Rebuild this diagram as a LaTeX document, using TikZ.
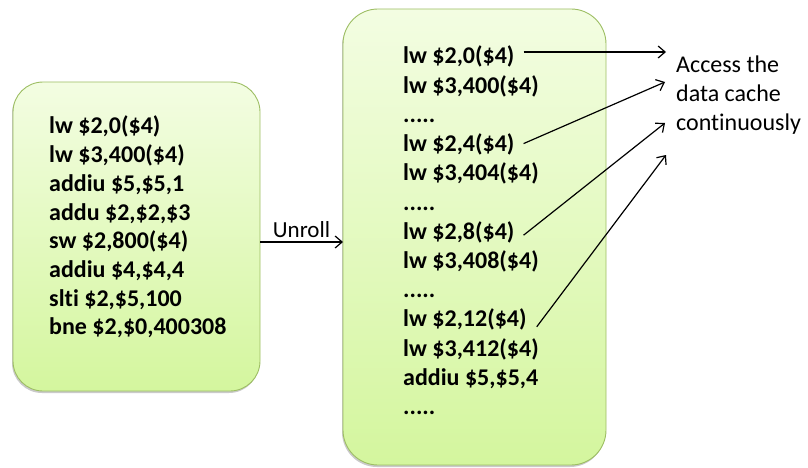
\documentclass[tikz,border=0pt]{standalone}
\usepackage{fontspec}
\setmainfont[Ligatures=NoCommon]{Carlito}
\usetikzlibrary{arrows.meta,shadows}
\definecolor{boxtop}{HTML}{F3FDE2}
\definecolor{boxbot}{HTML}{D4F69E}
\definecolor{boxline}{HTML}{9DBE63}
\tikzset{
  codebox/.style={draw=boxline, line width=0.9pt, rounded corners=30pt, top color=boxtop, bottom color=boxbot,
    drop shadow={shadow xshift=-1pt, shadow yshift=-2pt, opacity=0.35, fill=black!60}},
  code/.style={anchor=base west, inner sep=0pt, font=\fontsize{24}{28}\selectfont\bfseries},
  note/.style={anchor=base west, inner sep=0pt, font=\fontsize{24}{28}\selectfont},
  conn/.style={line width=1.2pt, -{Straight Barb[length=7pt,width=12pt,line width=1.2pt]}}
}
\begin{document}
\begin{tikzpicture}[x=1pt,y=-1pt]
\useasboundingbox (0,0) rectangle (808,468);
% boxes
\path[codebox] (13,82) rectangle (260,391);
\coordinate (lboxE) at (260,242);
\path[codebox, rounded corners=35pt] (343,9) rectangle (606,465);
\coordinate (rboxW) at (343,242);
% left code
\foreach \t [count=\i from 0] in {{lw \$2,0(\$4)}, {lw \$3,400(\$4)}, {addiu \$5,\$5,1}, {addu \$2,\$2,\$3}, {sw \$2,800(\$4)}, {addiu \$4,\$4,4}, {slti \$2,\$5,100}, {bne \$2,\$0,400308}}
  \node[code] (a\i) at (49,134+28.7*\i) {\t};
% right code
\node[code] (r0) at (403,64) {lw \$2,0(\$4)};
\node[code] (r1) at (403,64+29.2) {lw \$3,400(\$4)};
\node[code] (r2) at (403,64+2*29.2) {.....};
\node[code] (r3) at (403,64+3*29.2) {lw \$2,4(\$4)};
\node[code] (r4) at (403,64+4*29.2) {lw \$3,404(\$4)};
\node[code] (r5) at (403,64+5*29.2) {.....};
\node[code] (r6) at (403,64+6*29.2) {lw \$2,8(\$4)};
\node[code] (r7) at (403,64+7*29.2) {lw \$3,408(\$4)};
\node[code] (r8) at (403,64+8*29.2) {.....};
\node[code] (r9) at (403,64+9*29.2) {lw \$2,12(\$4)};
\node[code] (r10) at (403,64+10*29.2) {lw \$3,412(\$4)};
\node[code] (r11) at (403,64+11*29.2) {addiu \$5,\$5,4};
\node[code] (r12) at (403,64+12*29.2) {.....};
% note
\node[note] (n1) at (676,73) {Access the};
\node[note] (n2) at (676,102) {data cache};
\node[note] (n3) at (676,131) {continuously};
% unroll
\draw[conn] (lboxE) -- node[above=3pt, font=\fontsize{23}{27}\selectfont, inner sep=1pt] (unroll) {Unroll} (rboxW);
% targets
\coordinate (t1) at (666,52);
\coordinate (t2) at (665,82);
\coordinate (t3) at (665,123);
\coordinate (t4) at (666,155);
\draw[conn] ([shift={(9pt,12pt)}]r0.base east) -- (t1);
\draw[conn] ([shift={(9pt,8pt)}]r3.base east) -- (t2);
\draw[conn] ([shift={(9pt,4pt)}]r6.base east) -- (t3);
\draw[conn] ([shift={(10pt,0pt)}]r9.base east) -- (t4);
\end{tikzpicture}
\end{document}
